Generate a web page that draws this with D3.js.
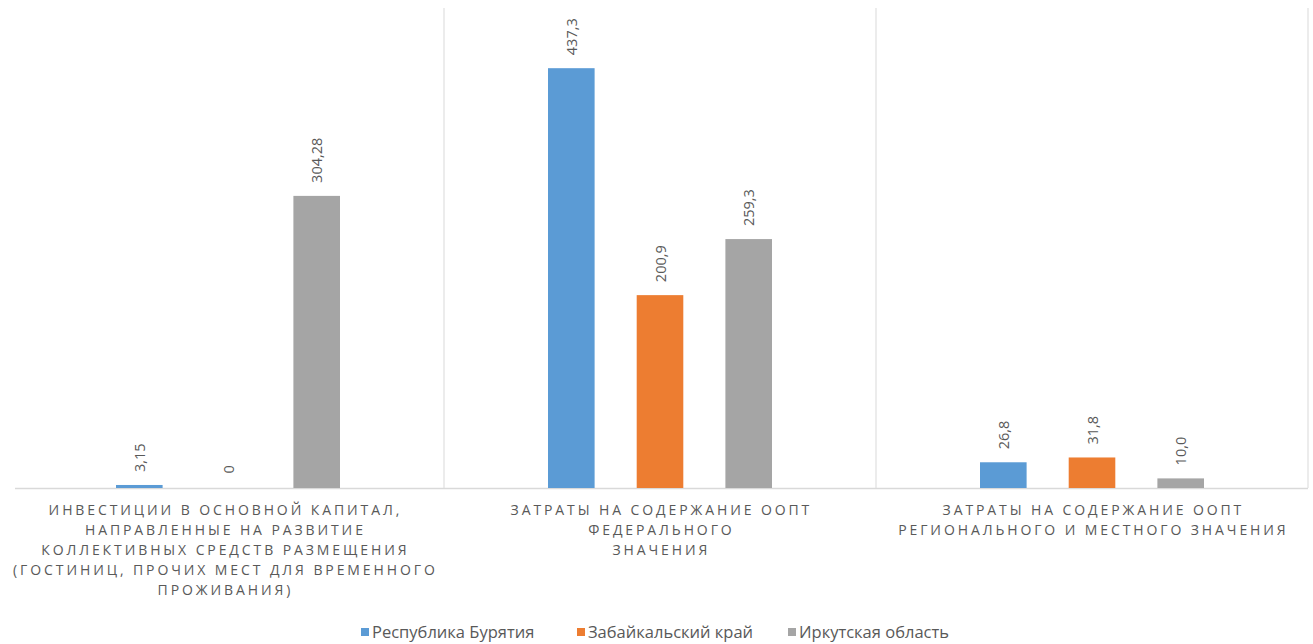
<!DOCTYPE html>
<html><head><meta charset="utf-8">
<script src="https://cdn.jsdelivr.net/npm/d3@7"></script>
<style>body{margin:0;background:#fff}</style>
</head><body>
<svg id="c" width="1313" height="644"></svg>
<script>
const categories = ["inv","fed","reg"];
const categoryLines = [
  ["ИНВЕСТИЦИИ В ОСНОВНОЙ КАПИТАЛ,","НАПРАВЛЕННЫЕ НА РАЗВИТИЕ","КОЛЛЕКТИВНЫХ СРЕДСТВ РАЗМЕЩЕНИЯ","(ГОСТИНИЦ, ПРОЧИХ МЕСТ ДЛЯ ВРЕМЕННОГО","ПРОЖИВАНИЯ)"],
  ["ЗАТРАТЫ НА СОДЕРЖАНИЕ ООПТ","ФЕДЕРАЛЬНОГО","ЗНАЧЕНИЯ"],
  ["ЗАТРАТЫ НА СОДЕРЖАНИЕ ООПТ","РЕГИОНАЛЬНОГО И МЕСТНОГО ЗНАЧЕНИЯ"]
];
const seriesNames = ["Республика Бурятия","Забайкальский край","Иркутская область"];
const seriesColors = ["#5b9bd5","#ed7d31","#a5a5a5"];
const buryatia = [3.15, 437.3, 26.8];
const zabaikalsky = [0, 200.9, 31.8];
const irkutsk = [304.28, 259.3, 10.0];
const valueLabels = [["3,15","437,3","26,8"],["0","200,9","31,8"],["304,28","259,3","10,0"]];
const seriesValues = [buryatia, zabaikalsky, irkutsk];

const svg = d3.select("#c");
const pLeft = 12, pRight = 1308, pTop = 8, pBottom = 488;
const x0 = d3.scaleBand().domain(categories).range([pLeft, pRight]).padding(0);
const x1 = d3.scaleBand().domain(d3.range(3)).range([104, 432-104]).paddingInner(0.4745).paddingOuter(0);
const y = d3.scaleLinear().domain([0, 500]).range([pBottom, pTop]);

// separators
svg.append("g").selectAll("line").data(categories.slice(1).concat(["end"])).join("line")
  .attr("x1", (d,i)=> i<2 ? x0(d) : pRight).attr("x2", (d,i)=> i<2 ? x0(d) : pRight)
  .attr("y1", pTop).attr("y2", pBottom)
  .attr("stroke", "#d9d9d9").attr("stroke-width", 1);
// baseline
svg.append("line").attr("x1", 15).attr("x2", pRight).attr("y1", pBottom+0.5).attr("y2", pBottom+0.5)
  .attr("stroke","#d9d9d9").attr("stroke-width",1.5);

const g = svg.append("g");
seriesValues.forEach((vals, s) => {
  categories.forEach((c, i) => {
    const v = vals[i];
    const bx = x0(c) + x1(s);
    const h = y(0) - y(v);
    if (h > 0.01) {
      g.append("rect").attr("x", bx).attr("y", y(v)).attr("width", x1.bandwidth()).attr("height", Math.max(h, 1.5))
        .attr("fill", seriesColors[s]);
    }
    const cx = bx + x1.bandwidth()/2;
    const ty = Math.min(y(v), pBottom - 1.5) - 13;
    g.append("text").attr("transform", `translate(${cx},${ty}) rotate(-90)`)
      .attr("dominant-baseline","central")
      .attr("font-family","'Open Sans', sans-serif").attr("font-size", 14.5).attr("fill","#595959")
      .text(valueLabels[s][i]);
  });
});

// category labels
categories.forEach((c, i) => {
  const cx = x0(c) + x0.bandwidth()/2;
  const t = svg.append("text").attr("text-anchor","middle")
    .attr("font-family","'Open Sans', sans-serif").attr("font-size", 14)
    .attr("letter-spacing", "2.9px").attr("fill","#595959");
  categoryLines[i].forEach((ln, k) => {
    t.append("tspan").attr("x", cx + 1.4 - (i===0 ? 4 : 0)).attr("y", 515 + k*20).text(ln);
  });
});

// legend
const legendX = [361, 577, 788];
const lg = svg.append("g");
seriesNames.forEach((n, s) => {
  lg.append("rect").attr("x", legendX[s]).attr("y", 628).attr("width", 8).attr("height", 8).attr("fill", seriesColors[s]);
  lg.append("text").attr("x", legendX[s]+11).attr("y", 638).attr("font-family","'Open Sans', sans-serif")
    .attr("font-size", 16.5).attr("fill","#595959").text(n);
});
</script>
</body></html>
